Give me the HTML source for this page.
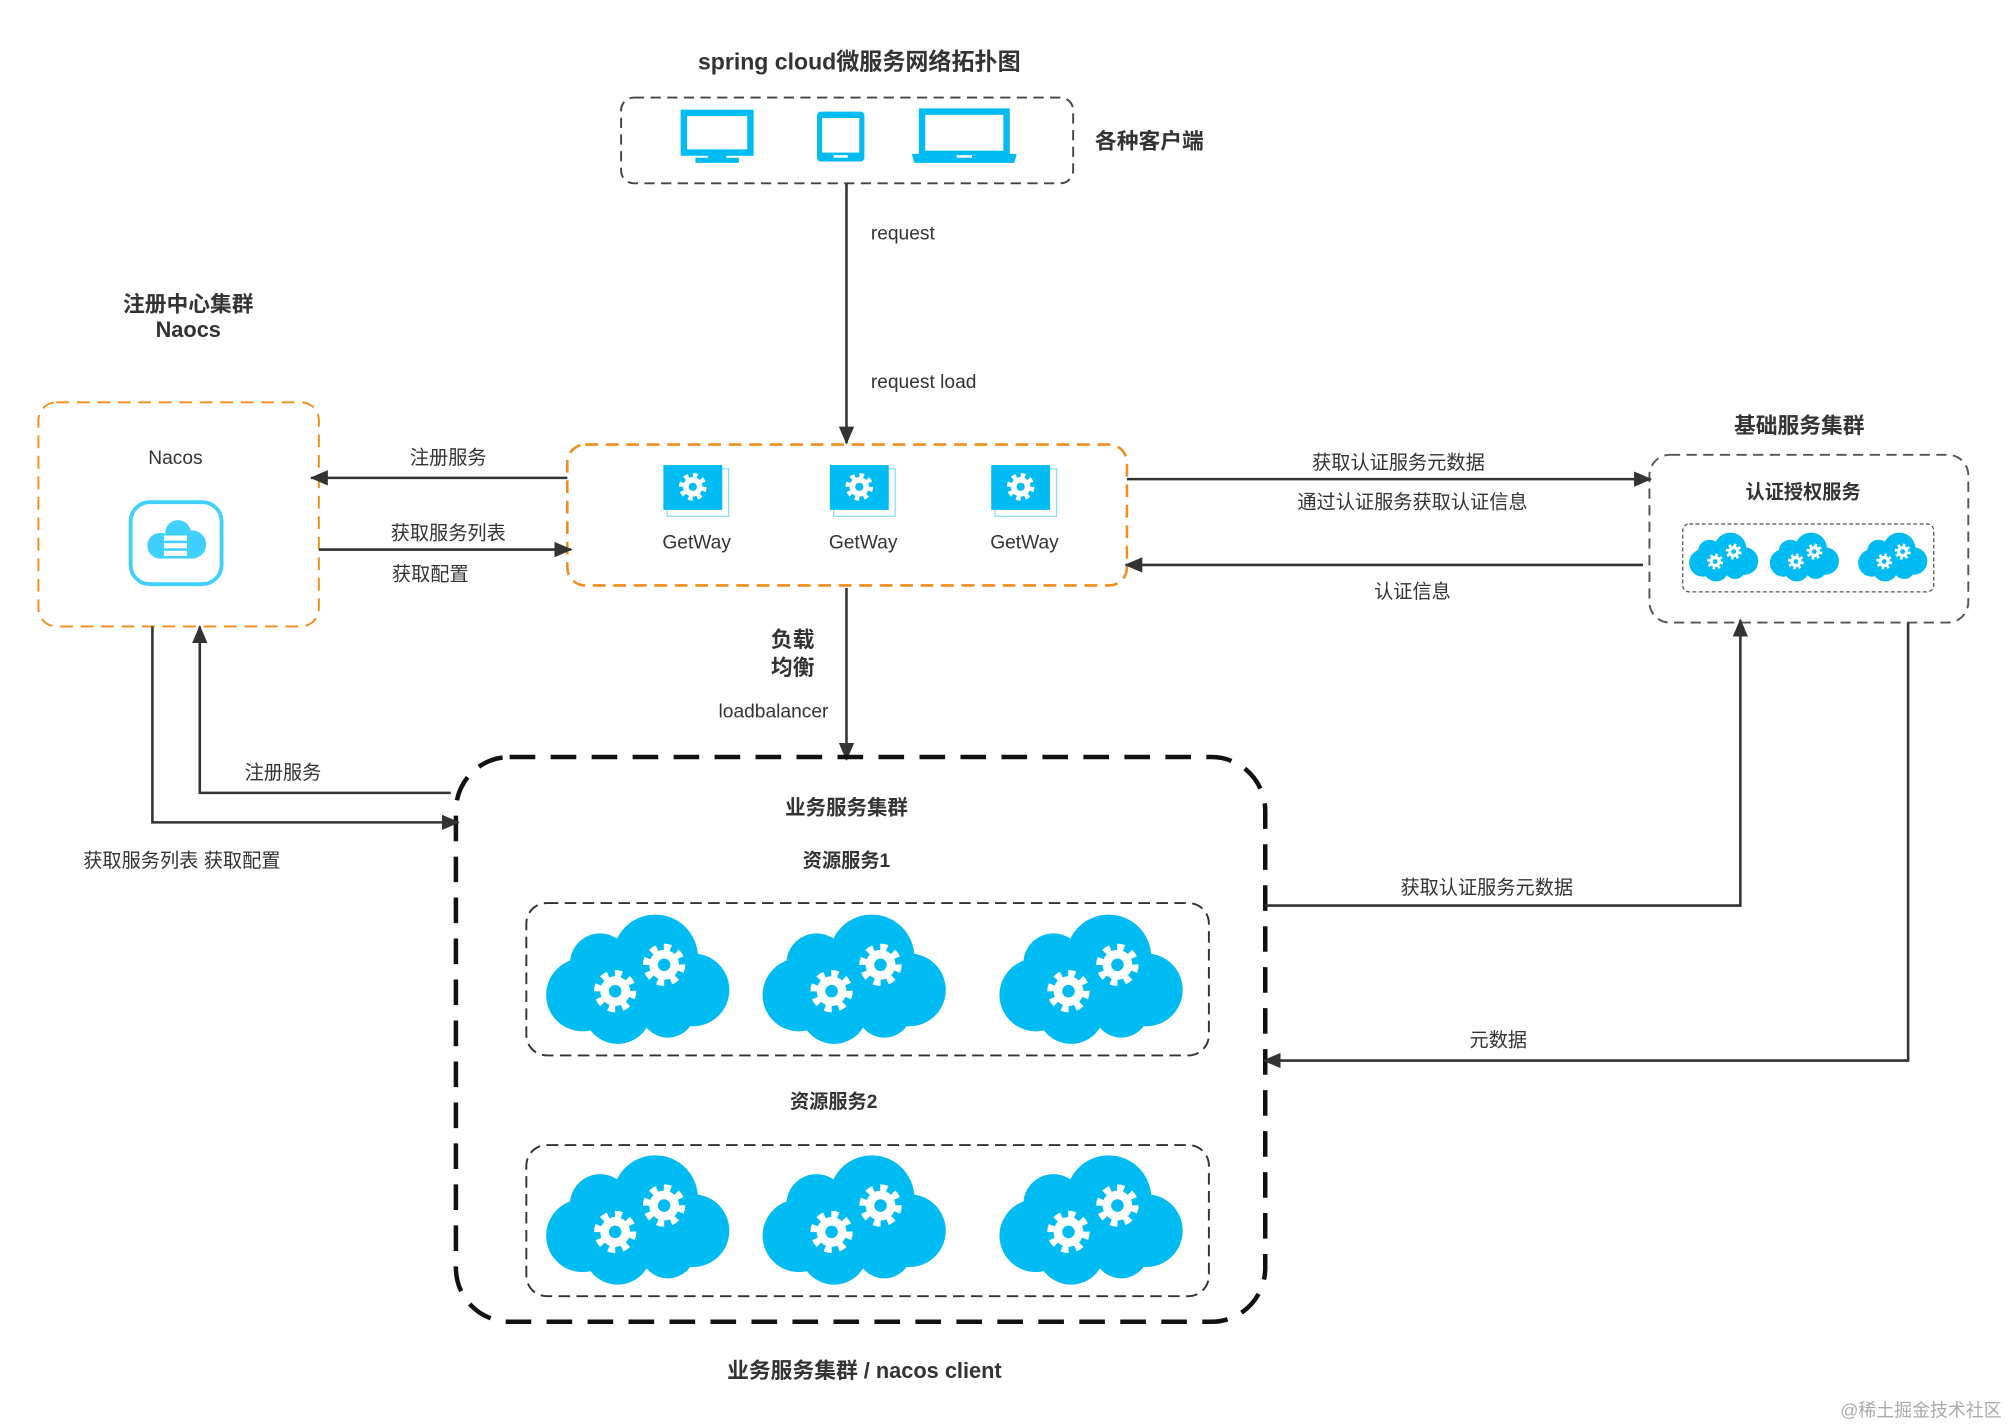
<!DOCTYPE html>
<html><head><meta charset="utf-8"><style>
html,body{margin:0;padding:0;background:#fff;}
svg{display:block;}
text{font-family:"Liberation Sans","Noto Sans CJK SC",sans-serif;fill:#333;}
.b{font-weight:bold;}
</style></head><body>
<svg width="2008" height="1427" viewBox="0 0 1568 1114" xmlns="http://www.w3.org/2000/svg">
<defs>
<marker id="ar" markerWidth="14" markerHeight="14" refX="13" refY="7" orient="auto" markerUnits="userSpaceOnUse">
<path d="M0,1 L14,7 L0,13 Z" fill="#333"/>
</marker>
<g id="gear">
<circle r="9.5" fill="#fff"/>
<circle r="11" fill="none" stroke="#fff" stroke-width="5" stroke-dasharray="4.3 4.3"/>
<circle r="4" fill="#00bcf2"/>
</g>
<g id="cloud">
<g fill="#00bcf2">
<circle cx="14" cy="-18" r="34"/>
<circle cx="-30" cy="-13" r="24"/>
<circle cx="-44" cy="12" r="29"/>
<circle cx="-16" cy="24" r="27"/>
<circle cx="24" cy="24" r="22"/>
<circle cx="44" cy="8" r="29"/>
<rect x="-45" y="-10" width="90" height="40"/>
</g>
<use href="#gear" transform="translate(21 -12) scale(1.25)"/>
<use href="#gear" transform="translate(-18 9) scale(1.25)"/>
</g>
<g id="gw">
<rect x="3" y="3" width="48" height="37" fill="#fff" stroke="#8ddcf7" stroke-width="1"/>
<rect x="0" y="0" width="46" height="35" fill="#00bcf2"/>
<use href="#gear" transform="translate(23 17) scale(0.8)"/>
</g>
</defs>

<text x="671" y="54" font-size="18" text-anchor="middle" class="b">spring cloud微服务网络拓扑图</text>

<rect x="485" y="76" width="353" height="67" rx="10" fill="none" stroke="#444" stroke-width="1.5" stroke-dasharray="8 5"/>
<rect x="534" y="88" width="52" height="31" fill="none" stroke="#00bcf2" stroke-width="5"/>
<rect x="553" y="119" width="14" height="5" fill="#00bcf2"/>
<rect x="543" y="123" width="34" height="4" fill="#00bcf2"/>
<rect x="638" y="87" width="37" height="39" rx="3" fill="#00bcf2"/>
<rect x="642" y="92" width="29" height="27" fill="#fff"/>
<rect x="651" y="121" width="11" height="2" fill="#fff"/>
<rect x="720" y="87" width="66" height="33" fill="none" stroke="#00bcf2" stroke-width="5"/>
<path d="M712,120 L794,120 L792,127 L714,127 Z" fill="#00bcf2"/>
<rect x="747" y="121" width="12" height="2" fill="#fff"/>
<text x="855" y="116" font-size="17" class="b">各种客户端</text>

<line x1="661" y1="143" x2="661" y2="346" stroke="#333" stroke-width="2" marker-end="url(#ar)"/>
<text x="680" y="187" font-size="15">request</text>
<text x="680" y="303" font-size="15">request load</text>

<rect x="443" y="347" width="437" height="110" rx="14" fill="none" stroke="#f28c1a" stroke-width="2" stroke-dasharray="10 6"/>
<use href="#gw" x="518" y="363"/>
<use href="#gw" x="648" y="363"/>
<use href="#gw" x="774" y="363"/>
<text x="544" y="428" font-size="15" text-anchor="middle">GetWay</text>
<text x="674" y="428" font-size="15" text-anchor="middle">GetWay</text>
<text x="800" y="428" font-size="15" text-anchor="middle">GetWay</text>

<text x="147" y="243" font-size="17" text-anchor="middle" class="b">注册中心集群</text>
<text x="147" y="263" font-size="17" text-anchor="middle" class="b">Naocs</text>
<rect x="30" y="314" width="219" height="175" rx="14" fill="none" stroke="#f28c1a" stroke-width="1.5" stroke-dasharray="10 6"/>
<text x="137" y="362" font-size="15" text-anchor="middle">Nacos</text>
<rect x="102" y="392" width="71" height="64" rx="15" fill="none" stroke="#3fd0ff" stroke-width="3"/>
<g fill="#3fd0ff"><circle cx="139" cy="416" r="10"/><circle cx="125" cy="426" r="10"/><circle cx="150" cy="425" r="11"/><rect x="125" y="418" width="27" height="18"/></g>
<g fill="#fff"><rect x="128" y="418" width="18" height="4"/><rect x="128" y="424" width="18" height="4"/><rect x="128" y="430" width="18" height="4"/></g>

<line x1="443" y1="373" x2="243" y2="373" stroke="#333" stroke-width="2" marker-end="url(#ar)"/>
<text x="350" y="362" font-size="15" text-anchor="middle">注册服务</text>
<line x1="249" y1="429" x2="446" y2="429" stroke="#333" stroke-width="2" marker-end="url(#ar)"/>
<text x="350" y="421" font-size="15" text-anchor="middle">获取服务列表</text>
<text x="336" y="453" font-size="15" text-anchor="middle">获取配置</text>

<text x="1405" y="338" font-size="17" text-anchor="middle" class="b">基础服务集群</text>
<rect x="1288" y="355" width="249" height="131" rx="16" fill="none" stroke="#555" stroke-width="1.5" stroke-dasharray="8 5"/>
<text x="1408" y="389" font-size="15" text-anchor="middle" class="b">认证授权服务</text>
<rect x="1314" y="409" width="196" height="53" rx="5" fill="none" stroke="#555" stroke-width="1" stroke-dasharray="3 2"/>
<use href="#cloud" transform="translate(1346 435) scale(0.37)"/>
<use href="#cloud" transform="translate(1409 435) scale(0.37)"/>
<use href="#cloud" transform="translate(1478 435) scale(0.37)"/>

<line x1="880" y1="374" x2="1289" y2="374" stroke="#333" stroke-width="2" marker-end="url(#ar)"/>
<text x="1092" y="366" font-size="15" text-anchor="middle">获取认证服务元数据</text>
<text x="1103" y="397" font-size="15" text-anchor="middle">通过认证服务获取认证信息</text>
<line x1="1283" y1="441" x2="879" y2="441" stroke="#333" stroke-width="2" marker-end="url(#ar)"/>
<text x="1103" y="467" font-size="15" text-anchor="middle">认证信息</text>

<line x1="661" y1="459" x2="661" y2="593" stroke="#333" stroke-width="2" marker-end="url(#ar)"/>
<text x="619" y="505" font-size="17" text-anchor="middle" class="b">负载</text>
<text x="619" y="527" font-size="17" text-anchor="middle" class="b">均衡</text>
<text x="604" y="560" font-size="15" text-anchor="middle">loadbalancer</text>

<rect x="356" y="591" width="632" height="441" rx="42" fill="none" stroke="#111" stroke-width="3.5" stroke-dasharray="20 12"/>
<text x="661" y="636" font-size="16" text-anchor="middle" class="b">业务服务集群</text>
<text x="661" y="677" font-size="15" text-anchor="middle" class="b">资源服务1</text>
<rect x="411" y="705" width="533" height="119" rx="16" fill="none" stroke="#333" stroke-width="1.5" stroke-dasharray="9 5"/>
<use href="#cloud" transform="translate(498 765) scale(0.98)"/>
<use href="#cloud" transform="translate(667 765) scale(0.98)"/>
<use href="#cloud" transform="translate(852 765) scale(0.98)"/>
<text x="651" y="865" font-size="15" text-anchor="middle" class="b">资源服务2</text>
<rect x="411" y="894" width="533" height="118" rx="16" fill="none" stroke="#333" stroke-width="1.5" stroke-dasharray="9 5"/>
<use href="#cloud" transform="translate(498 953) scale(0.98)"/>
<use href="#cloud" transform="translate(667 953) scale(0.98)"/>
<use href="#cloud" transform="translate(852 953) scale(0.98)"/>
<text x="675" y="1076" font-size="17" text-anchor="middle" class="b">业务服务集群 / nacos client</text>

<polyline points="119,489 119,642 358,642" fill="none" stroke="#333" stroke-width="2" marker-end="url(#ar)"/>
<text x="142" y="677" font-size="15" text-anchor="middle">获取服务列表  获取配置</text>
<polyline points="352,619 156,619 156,489" fill="none" stroke="#333" stroke-width="2" marker-end="url(#ar)"/>
<text x="221" y="608" font-size="15" text-anchor="middle">注册服务</text>

<polyline points="988,707 1359,707 1359,484" fill="none" stroke="#333" stroke-width="2" marker-end="url(#ar)"/>
<text x="1161" y="698" font-size="15" text-anchor="middle">获取认证服务元数据</text>
<polyline points="1490,486 1490,828 987,828" fill="none" stroke="#333" stroke-width="2" marker-end="url(#ar)"/>
<text x="1170" y="817" font-size="15" text-anchor="middle">元数据</text>

<text x="1500" y="1106" font-size="14" text-anchor="middle" style="fill:#aaa">@稀土掘金技术社区</text>
</svg>
</body></html>
